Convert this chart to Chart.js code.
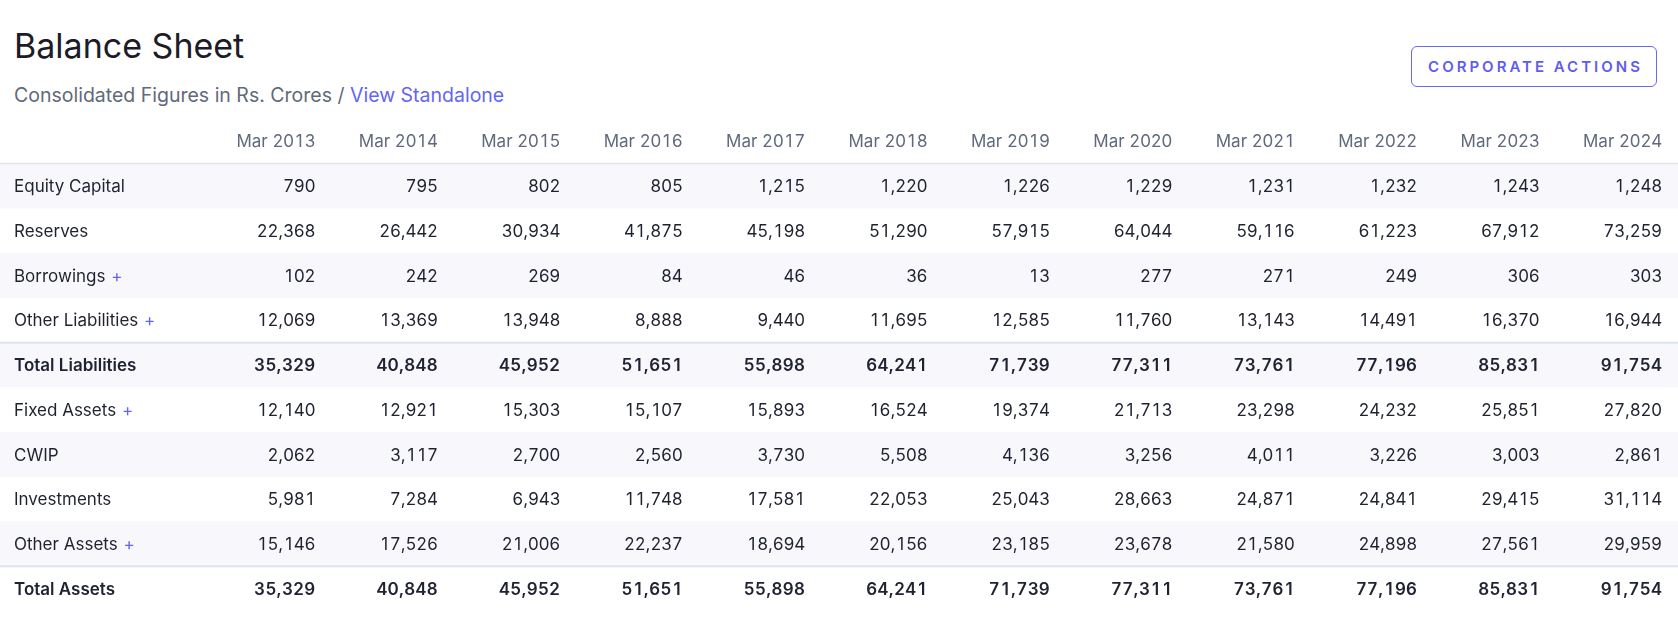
<!DOCTYPE html>
<html>
<head>
<meta charset="utf-8">
<title>Balance Sheet</title>
<script src="https://cdn.jsdelivr.net/npm/chart.js@4.4.1/dist/chart.umd.min.js"></script>
<style>
    html, body { margin: 0; padding: 0; background: #fff; }
    body { width: 1678px; height: 622px; position: relative; overflow: hidden; font-family: 'Inter', 'Noto Sans', sans-serif; }
    h1 { position: absolute; left: 14px; top: 29px; margin: 0; font-size: 34px; line-height: 1; font-weight: 400; color: #1c1c28; }
    .sub { position: absolute; left: 14px; top: 86px; font-size: 19.5px; line-height: 1; color: #606a78; }
    .sub a { color: #6366f1; text-decoration: none; }
    .btn { position: absolute; left: 1411px; top: 46px; width: 246px; height: 41px; box-sizing: border-box;
           border: 1px solid #6c66f5; border-radius: 6px; color: #5f5cf0; font-size: 15px; font-weight: 600;
           letter-spacing: 3px; display: flex; align-items: center; justify-content: center; padding-left: 3px; }
    .wrap { position: absolute; left: 0; top: 119px; width: 1678px; height: 503px; }
</style>
</head>
<body>
<h1>Balance Sheet</h1>
<div class="sub">Consolidated Figures in Rs. Crores / <a href="#">View Standalone</a></div>
<div class="btn">CORPORATE ACTIONS</div>
<div class="wrap"><canvas id="balanceChart"></canvas></div>

<script>
// Balance sheet table drawn on a Chart.js canvas

const years = ['Mar 2013', 'Mar 2014', 'Mar 2015', 'Mar 2016', 'Mar 2017', 'Mar 2018',
               'Mar 2019', 'Mar 2020', 'Mar 2021', 'Mar 2022', 'Mar 2023', 'Mar 2024'];

const rowLabels = ['Equity Capital', 'Reserves', 'Borrowings', 'Other Liabilities', 'Total Liabilities',
                   'Fixed Assets', 'CWIP', 'Investments', 'Other Assets', 'Total Assets'];
const expandable = ['Borrowings', 'Other Liabilities', 'Fixed Assets', 'Other Assets'];
const totalRows = ['Total Liabilities', 'Total Assets'];

const equityCapital = [790, 795, 802, 805, 1215, 1220, 1226, 1229, 1231, 1232, 1243, 1248];
const reserves = [22368, 26442, 30934, 41875, 45198, 51290, 57915, 64044, 59116, 61223, 67912, 73259];
const borrowings = [102, 242, 269, 84, 46, 36, 13, 277, 271, 249, 306, 303];
const otherLiabilities = [12069, 13369, 13948, 8888, 9440, 11695, 12585, 11760, 13143, 14491, 16370, 16944];
const totalLiabilities = [35329, 40848, 45952, 51651, 55898, 64241, 71739, 77311, 73761, 77196, 85831, 91754];
const fixedAssets = [12140, 12921, 15303, 15107, 15893, 16524, 19374, 21713, 23298, 24232, 25851, 27820];
const cwip = [2062, 3117, 2700, 2560, 3730, 5508, 4136, 3256, 4011, 3226, 3003, 2861];
const investments = [5981, 7284, 6943, 11748, 17581, 22053, 25043, 28663, 24871, 24841, 29415, 31114];
const otherAssets = [15146, 17526, 21006, 22237, 18694, 20156, 23185, 23678, 21580, 24898, 27561, 29959];
const totalAssets = [35329, 40848, 45952, 51651, 55898, 64241, 71739, 77311, 73761, 77196, 85831, 91754];

const rowValues = [equityCapital, reserves, borrowings, otherLiabilities, totalLiabilities,
                   fixedAssets, cwip, investments, otherAssets, totalAssets];

const FONT = "'Inter', 'Noto Sans', sans-serif";
const FONT_SIZE = 17;
const CELL_PAD = 16;

// row 0 on the y scale is the header, data rows start at 1
const datasets = rowValues.map(function (vals, r) {
    return {
        label: rowLabels[r],
        data: vals.map(function (v, i) { return { x: i, y: r + 1, v: v }; }),
        pointRadius: 0,
        pointHoverRadius: 0,
    };
});

// right aligned text with tabular digits (canvas has no font-variant-numeric)
function drawTabular(ctx, text, right, baseline) {
    const digitW = ctx.measureText('0').width;
    let widths = [];
    let total = 0;
    for (const ch of text) {
        const w = /[0-9]/.test(ch) ? digitW : ctx.measureText(ch).width;
        widths.push(w);
        total += w;
    }
    let cx = right - total;
    ctx.textAlign = 'center';
    let k = 0;
    for (const ch of text) {
        ctx.fillText(ch, cx + widths[k] / 2, baseline);
        cx += widths[k];
        k++;
    }
}

const tablePlugin = {
    id: 'balanceTable',
    beforeDatasetsDraw(chart) {
        const ctx = chart.ctx;
        const x = chart.scales.x;
        const y = chart.scales.y;
        const rowH = Math.abs(y.getPixelForValue(1) - y.getPixelForValue(0));
        const colW = Math.abs(x.getPixelForValue(1) - x.getPixelForValue(0));
        const W = chart.width;
        const baseOff = FONT_SIZE * 0.36;

        ctx.save();

        // striped rows
        rowLabels.forEach(function (label, r) {
            if (r % 2 !== 0) return;
            const yc = y.getPixelForValue(r + 1);
            ctx.fillStyle = '#f7f7fc';
            ctx.fillRect(0, yc - rowH / 2, W, rowH);
        });

        // header underline
        ctx.fillStyle = '#dde3f0';
        ctx.fillRect(0, y.getPixelForValue(0.5) - 1, W, 1.5);

        // total row borders
        rowLabels.forEach(function (label, r) {
            if (totalRows.indexOf(label) < 0) return;
            const top = y.getPixelForValue(r + 0.5);
            ctx.fillStyle = '#dde3f0';
            ctx.fillRect(0, top - 1, W, 2);
        });

        ctx.textBaseline = 'alphabetic';

        // header labels
        ctx.font = '400 ' + FONT_SIZE + 'px ' + FONT;
        ctx.fillStyle = '#5f6b7c';
        years.forEach(function (yr, i) {
            drawTabular(ctx, yr, x.getPixelForValue(i) + colW / 2 - CELL_PAD, y.getPixelForValue(0) + baseOff);
        });

        // row labels
        rowLabels.forEach(function (label, r) {
            const yb = y.getPixelForValue(r + 1) + baseOff;
            const isTotal = totalRows.indexOf(label) >= 0;
            ctx.textAlign = 'left';
            ctx.font = (isTotal ? '600 ' : '400 ') + FONT_SIZE + 'px ' + FONT;
            ctx.fillStyle = '#1f2230';
            ctx.fillText(label, 14, yb);
            if (expandable.indexOf(label) >= 0) {
                const w = ctx.measureText(label).width;
                ctx.font = '400 ' + FONT_SIZE + 'px ' + FONT;
                ctx.fillStyle = '#6366f1';
                ctx.fillText(' +', 14 + w + 1, yb);
            }
        });

        // values, placed at each point element of the dataset
        chart.data.datasets.forEach(function (ds, d) {
            const meta = chart.getDatasetMeta(d);
            const isTotal = totalRows.indexOf(ds.label) >= 0;
            ctx.font = (isTotal ? '600 ' : '400 ') + FONT_SIZE + 'px ' + FONT;
            ctx.fillStyle = '#1f2230';
            meta.data.forEach(function (pt, i) {
                const txt = ds.data[i].v.toLocaleString('en-US');
                drawTabular(ctx, txt, pt.x + colW / 2 - CELL_PAD, pt.y + baseOff);
            });
        });

        ctx.restore();
    }
};

new Chart(document.getElementById('balanceChart'), {
    type: 'scatter',
    data: { datasets: datasets },
    options: {
        responsive: true,
        maintainAspectRatio: false,
        animation: false,
        events: [],
        layout: { padding: { left: 209, right: 0, top: 0, bottom: 11 } },
        plugins: {
            legend: { display: false },
            tooltip: { enabled: false },
        },
        scales: {
            x: { type: 'linear', min: -0.5, max: years.length - 0.5, display: false },
            y: { type: 'linear', min: -0.5, max: rowLabels.length + 0.5, reverse: true, display: false },
        },
    },
    plugins: [tablePlugin],
});
</script>
</body>
</html>
